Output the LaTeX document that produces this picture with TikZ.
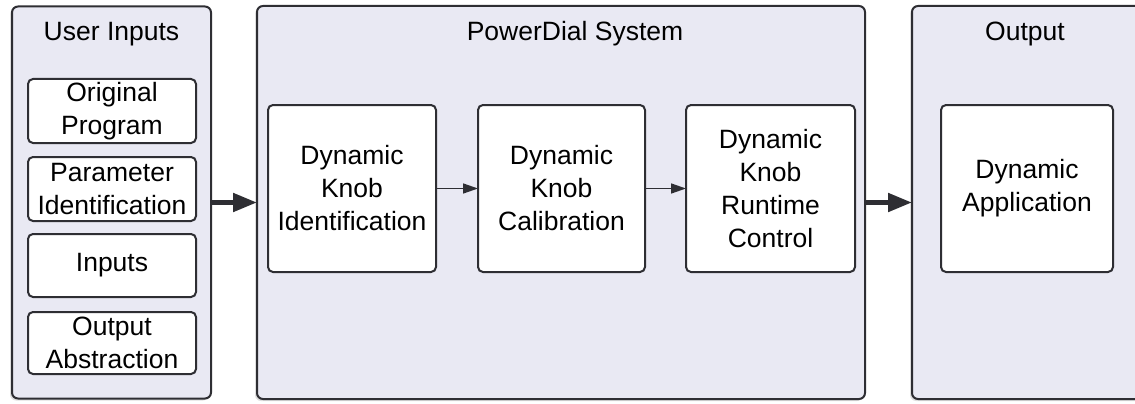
\documentclass[tikz,border=0pt]{standalone}
\usepackage{fontspec}
\setmainfont{Liberation Sans}
\usetikzlibrary{arrows.meta,shadows}
\definecolor{panelbg}{HTML}{E9E9F3}
\definecolor{edge}{HTML}{2E2E33}
\tikzset{
  panel/.style={draw=edge, line width=2pt, fill=panelbg, rounded corners=6pt,
    inner sep=0pt, outer sep=0pt,
    drop shadow={opacity=0.25, shadow xshift=-2pt, shadow yshift=-2pt}},
  smallbox/.style={draw=edge, line width=2pt, fill=white, rounded corners=5pt,
    inner sep=0pt, outer sep=0pt, align=center, text width=168pt,
    font=\fontsize{26.5}{33}\selectfont},
  paneltitle/.style={font=\fontsize{26.5}{33}\selectfont, inner sep=0pt},
  bigarrow/.style={draw=edge, line width=5pt, -{Triangle[length=24pt,width=18pt]}},
  thinarrow/.style={draw=edge, line width=1.5pt, -{Triangle[length=15pt,width=10pt]}}
}
\begin{document}
\begin{tikzpicture}[x=1pt,y=-1pt]
\useasboundingbox (0,0) rectangle (1135,404);
% containers
\node[panel, minimum width=199pt, minimum height=392pt] (UI) at (111.5,202.5) {};
\node[panel, minimum width=608pt, minimum height=393pt] (PD) at (561,202.5) {};
\node[panel, minimum width=240pt, minimum height=393pt] (OUT) at (1032,202.5) {};
% titles
\node[paneltitle] (tUI) at (111.5,34) {User Inputs};
\node[paneltitle] (tPD) at (575,34) {PowerDial System};
\node[paneltitle] (tOUT) at (1025,34) {Output};
% user input boxes
\node[smallbox, minimum height=64pt] (op) at (112,111) {Original\\Program};
\node[smallbox, minimum height=64pt] (pi) at (112,189) {Parameter\\Identification};
\node[smallbox, minimum height=63pt] (in) at (112,265.5) {Inputs};
\node[smallbox, minimum height=62pt] (oa) at (112,343) {Output\\Abstraction};
% system boxes
\node[smallbox, minimum height=167pt] (b1) at (352,188.5) {Dynamic\\Knob\\Identification};
\node[smallbox, minimum height=167pt, text width=167pt] (b2) at (561.5,188.5) {Dynamic\\Knob\\Calibration};
\node[smallbox, minimum height=167pt, text width=169pt] (b3) at (770.5,188.5) {Dynamic\\Knob\\Runtime\\Control};
% output box
\node[smallbox, minimum height=167pt, text width=172pt] (da) at (1027,188.5) {Dynamic\\Application};
% arrows
\draw[bigarrow] (UI) -- (PD);
\draw[bigarrow] (PD) -- (OUT);
\draw[thinarrow] (b1) -- (b2);
\draw[thinarrow] (b2) -- (b3);
\end{tikzpicture}
\end{document}
